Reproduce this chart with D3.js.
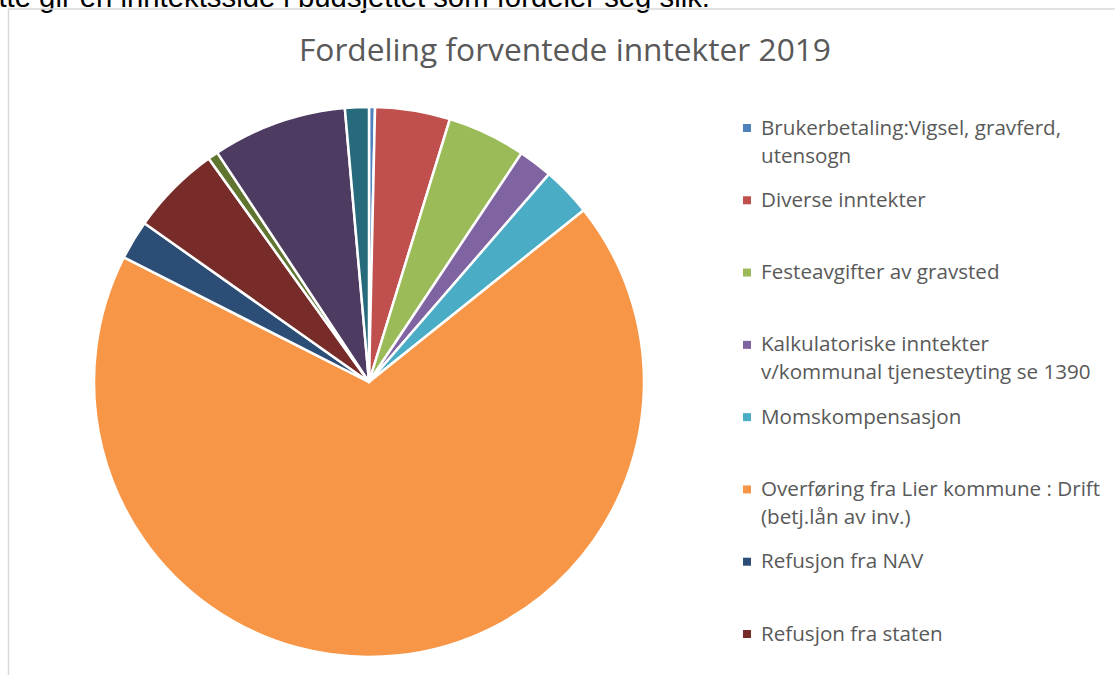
<!DOCTYPE html>
<html lang="no">
<head>
<meta charset="UTF-8">
<title>Fordeling forventede inntekter 2019</title>
<script src="https://cdn.jsdelivr.net/npm/d3@7"></script>
<style>
    body { margin: 0; background: #fff; overflow: hidden; }
    svg { display: block; }
</style>
</head>
<body>
<div id="graphDiv"></div>
<script>
// categories in legend order (last three fall below the visible area)
const categories = [
    "Brukerbetaling:Vigsel, gravferd, utensogn",
    "Diverse inntekter",
    "Festeavgifter av gravsted",
    "Kalkulatoriske inntekter v/kommunal tjenesteyting se 1390",
    "Momskompensasjon",
    "Overføring fra Lier kommune : Drift (betj.lån av inv.)",
    "Refusjon fra NAV",
    "Refusjon fra staten",
    "Renteinntekter",
    "Salgsinntekter",
    "Tilskudd"
];
// legend text split into lines as in the picture
const legendLines = [
    ["Brukerbetaling:Vigsel, gravferd,", "utensogn"],
    ["Diverse inntekter"],
    ["Festeavgifter av gravsted"],
    ["Kalkulatoriske inntekter", "v/kommunal tjenesteyting se 1390"],
    ["Momskompensasjon"],
    ["Overføring fra Lier kommune : Drift", "(betj.lån av inv.)"],
    ["Refusjon fra NAV"],
    ["Refusjon fra staten"],
    ["Renteinntekter"],
    ["Salgsinntekter"],
    ["Tilskudd"]
];
// share of total, percent
const shares = [0.35, 4.4, 4.6, 2.0, 2.9, 68.2, 2.3, 5.3, 0.6, 7.9, 1.4];
const colors = ["#4F81BD", "#C0504D", "#9BBB59", "#8064A2", "#4BACC6", "#F79646",
                "#2C4D75", "#772C2A", "#5F7530", "#4D3B62", "#276A7C"];

const title = "Fordeling forventede inntekter 2019";
const introText = "Dette gir en inntektsside i budsjettet som fordeler seg slik:";

const width = 1115, height = 675;
const cx = 369, cy = 382, radius = 275;

const svg = d3.select("#graphDiv").append("svg")
    .attr("width", width)
    .attr("height", height);

// text from the surrounding document, cut off at the top and left
const intro = svg.append("text")
    .attr("x", 710)
    .attr("y", 7)
    .attr("text-anchor", "end")
    .style("font-family", "Liberation Sans, Arial, sans-serif")
    .style("font-size", "20px")
    .attr("fill", "#000")
    .text(introText.slice(2));
const iw = intro.node().getComputedTextLength();
intro.style("font-size", (20 * 712 / iw).toFixed(2) + "px").text(introText);

// chart area border
svg.append("path")
    .attr("d", `M8.5,${height} V9 H${width}`)
    .attr("fill", "none")
    .attr("stroke", "#d9d9d9")
    .attr("stroke-width", 1.5);

// title, fitted to the width it has in the picture
const titleEl = svg.append("text")
    .attr("x", 565)
    .attr("y", 61)
    .attr("text-anchor", "middle")
    .attr("fill", "#595959")
    .style("font-family", "Open Sans, sans-serif")
    .style("font-size", "28px")
    .text(title);
const tw = titleEl.node().getComputedTextLength();
titleEl.style("font-size", (28 * 532 / tw).toFixed(2) + "px");

// pie
const data = categories.map((c, i) => ({name: c, value: shares[i], color: colors[i]}));
const pie = d3.pie().sort(null).value(d => d.value);
const arc = d3.arc().innerRadius(0).outerRadius(radius);

svg.append("g")
    .attr("transform", `translate(${cx},${cy})`)
    .selectAll("path")
    .data(pie(data))
    .join("path")
    .attr("d", arc)
    .attr("fill", d => d.data.color)
    .attr("stroke", "#fff")
    .attr("stroke-width", 2.5)
    .attr("stroke-linejoin", "round");

// legend: only the rows that fit in the visible area
const legend = svg.append("g")
    .style("font-family", "Open Sans, sans-serif")
    .attr("fill", "#595959");

const rowY = d3.scaleLinear().domain([0, 7]).range([128, 634]);

legendLines.forEach((lines, i) => {
    if (rowY(i) + 10 > height) return;
    const row = legend.append("g")
        .attr("transform", `translate(0,${rowY(i)})`);
    row.append("rect")
        .attr("x", 743)
        .attr("y", -4)
        .attr("width", 8)
        .attr("height", 8)
        .attr("fill", colors[i]);
    const t = row.append("text")
        .attr("x", 761)
        .attr("y", 6.5)
        .style("font-size", "18px");
    lines.forEach((ln, j) => {
        t.append("tspan")
            .attr("x", 761)
            .attr("dy", j === 0 ? 0 : 28)
            .text(ln);
    });
});

// fit legend text width to the picture (first line of first item ~300px)
const probe = legend.select("text").select("tspan").node();
const pw = probe.getComputedTextLength();
legend.selectAll("text").style("font-size", (18 * 300 / pw).toFixed(2) + "px");
</script>
</body>
</html>
